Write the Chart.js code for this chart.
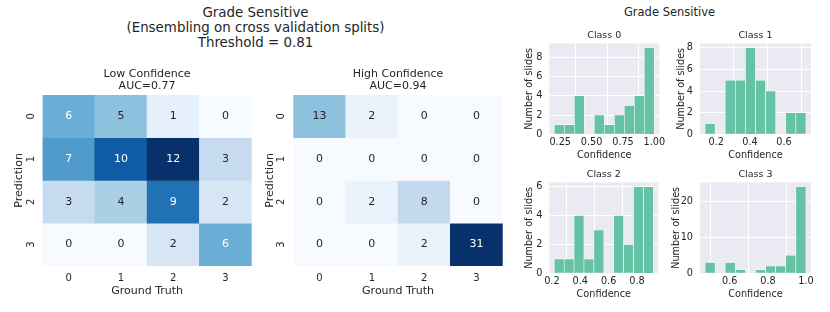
<!DOCTYPE html>
<html>
<head>
<meta charset="utf-8">
<script src="https://cdn.jsdelivr.net/npm/chart.js@4/dist/chart.umd.min.js"></script>
<style>
  html, body { margin: 0; padding: 0; background: #fff; }
  body { width: 830px; height: 312px; position: relative; overflow: hidden;
         font-family: "DejaVu Sans", sans-serif; color: #262626; }
  canvas { position: absolute; }
  .title { position: absolute; text-align: center; white-space: nowrap; }
</style>
</head>
<body>
<div class="title" style="left:0;top:4.6px;width:511px;font-size:13.4px;line-height:15px;">Grade Sensitive<br>(Ensembling on cross validation splits)<br>Threshold = 0.81</div>
<div class="title" style="left:590px;top:5px;width:159px;font-size:11.5px;line-height:14px;">Grade Sensitive</div>

<canvas id="lowConf" width="262" height="252" style="left:0;top:60px"></canvas>
<canvas id="highConf" width="262" height="252" style="left:250px;top:60px"></canvas>
<canvas id="class0" width="155" height="135" style="left:515px;top:30px"></canvas>
<canvas id="class1" width="155" height="135" style="left:668px;top:30px"></canvas>
<canvas id="class2" width="155" height="143" style="left:515px;top:169px"></canvas>
<canvas id="class3" width="155" height="143" style="left:668px;top:169px"></canvas>

<script>
// confusion matrices: rows = prediction, columns = ground truth
const truthLabels = ["0", "1", "2", "3"];
const predLabels = ["0", "1", "2", "3"];
const lowConfMatrix = [
  [6, 5, 1, 0],
  [7, 10, 12, 3],
  [3, 4, 9, 2],
  [0, 0, 2, 6]
];
const highConfMatrix = [
  [13, 2, 0, 0],
  [0, 0, 0, 0],
  [0, 2, 8, 0],
  [0, 0, 2, 31]
];
const lowConfTitle = ["Low Confidence", "AUC=0.77"];
const highConfTitle = ["High Confidence", "AUC=0.94"];

// confidence histograms (10 bins between first and last edge)
const class0Counts = [1, 1, 4, 0, 2, 1, 2, 3, 4, 9];
const class0Edges = [0.203, 1.0];
const class0XTicks = ["0.25", "0.50", "0.75", "1.00"];
const class0YTicks = [0, 2, 4, 6, 8];

const class1Counts = [1, 0, 5, 5, 8, 5, 4, 0, 2, 2];
const class1Edges = [0.135, 0.729];
const class1XTicks = ["0.2", "0.4", "0.6"];
const class1YTicks = [0, 2, 4, 6, 8];

const class2Counts = [1, 1, 4, 1, 3, 0, 4, 2, 6, 6];
const class2Edges = [0.217, 0.915];
const class2XTicks = ["0.2", "0.4", "0.6", "0.8"];
const class2YTicks = [0, 2, 4, 6];

const class3Counts = [3, 0, 3, 1, 0, 1, 2, 2, 5, 24];
const class3Edges = [0.470, 0.9995];
const class3XTicks = ["0.6", "0.8", "1.0"];
const class3YTicks = [0, 10, 20];

const ink = "#262626";
const family = "DejaVu Sans";

// matplotlib "Blues"
const bluesStops = [
  [247, 251, 255], [222, 235, 247], [198, 219, 239], [158, 202, 225], [107, 174, 214],
  [66, 146, 198], [33, 113, 181], [8, 81, 156], [8, 48, 107]
];

function blues(t) {
  t = Math.min(1, Math.max(0, t));
  const pos = t * (bluesStops.length - 1);
  const i = Math.min(Math.floor(pos), bluesStops.length - 2);
  const f = pos - i;
  return bluesStops[i].map((c, k) => c + (bluesStops[i + 1][k] - c) * f);
}

function css(rgb) {
  return "rgb(" + rgb.map(Math.round).join(",") + ")";
}

function luminance(rgb) {
  const lin = rgb.map(c => {
    c = c / 255;
    return c <= 0.03928 ? c / 12.92 : Math.pow((c + 0.055) / 1.055, 2.4);
  });
  return 0.2126 * lin[0] + 0.7152 * lin[1] + 0.0722 * lin[2];
}

// writes the count in the middle of every cell
function cellText(matrix, vmin, vmax) {
  return {
    id: "cellText",
    afterDatasetsDraw(chart) {
      const ctx = chart.ctx;
      ctx.save();
      ctx.font = "11px '" + family + "'";
      ctx.textAlign = "center";
      ctx.textBaseline = "middle";
      matrix.forEach((row, r) => {
        chart.getDatasetMeta(r).data.forEach((bar, c) => {
          const v = row[c];
          const lum = luminance(blues((v - vmin) / (vmax - vmin)));
          ctx.fillStyle = lum > 0.408 ? ink : "#ffffff";
          ctx.fillText(String(v), bar.x, (bar.y + bar.base) / 2);
        });
      });
      ctx.restore();
    }
  };
}

const plotBackground = {
  id: "plotBackground",
  beforeDraw(chart) {
    const a = chart.chartArea;
    chart.ctx.save();
    chart.ctx.fillStyle = "#eaeaf2";
    chart.ctx.fillRect(a.left, a.top, a.right - a.left, a.bottom - a.top);
    chart.ctx.restore();
  }
};

function heatmap(id, matrix, title, lay) {
  const flat = matrix.flat();
  const vmin = Math.min(...flat);
  const vmax = Math.max(...flat);
  const datasets = matrix.map((row, r) => ({
    data: row.map(() => [r, r + 1]),
    backgroundColor: row.map(v => css(blues((v - vmin) / (vmax - vmin)))),
    borderWidth: 0,
    grouped: false,
    barPercentage: 1,
    categoryPercentage: 1
  }));

  new Chart(document.getElementById(id), {
    type: "bar",
    data: { labels: truthLabels, datasets },
    options: {
      responsive: false,
      animation: false,
      layout: { padding: { left: lay.padLeft, right: lay.padRight, top: 0, bottom: 14.2 } },
      plugins: {
        legend: { display: false },
        tooltip: { enabled: false },
        title: {
          display: true,
          text: title,
          fullSize: false,
          color: ink,
          font: { family, size: 11, weight: "normal", lineHeight: 1.12 },
          padding: { top: 7.7, bottom: 2.6 }
        }
      },
      scales: {
        x: {
          grid: { display: false, drawTicks: false },
          border: { display: false },
          ticks: { color: ink, font: { family, size: 10 }, padding: 6.2 },
          title: { display: true, text: "Ground Truth", color: ink, font: { family, size: 11 }, padding: 0 },
          afterFit: s => { s.height = 31.8; }
        },
        y: {
          min: 0,
          max: 4,
          reverse: true,
          grid: { display: false, drawTicks: false },
          border: { display: false },
          afterBuildTicks: s => { s.ticks = predLabels.map((_, i) => ({ value: i + 0.5 })); },
          ticks: {
            callback: (v, i) => predLabels[i],
            minRotation: 90,
            maxRotation: 90,
            crossAlign: "center",
            padding: 8.4,
            color: ink,
            font: { family, size: 10 }
          },
          title: { display: true, text: "Prediction", color: ink, font: { family, size: 11 }, padding: 0 },
          afterFit: s => { s.width = lay.axisWidth; }
        }
      }
    },
    plugins: [cellText(matrix, vmin, vmax)]
  });
}

function histogram(id, title, counts, edges, xTicks, yTicks, lay) {
  const lo = edges[0], hi = edges[1];
  const bin = (hi - lo) / counts.length;
  const margin = 0.05 * (hi - lo);
  const points = counts.map((n, i) => ({ x: lo + bin * (i + 0.5), y: n }));

  new Chart(document.getElementById(id), {
    type: "bar",
    data: {
      datasets: [{
        data: points,
        backgroundColor: "#66c2a5",
        borderColor: "#ffffff",
        borderWidth: 0.6,
        barPercentage: 1,
        categoryPercentage: 1
      }]
    },
    options: {
      responsive: false,
      animation: false,
      layout: { padding: { left: lay.padLeft, right: lay.padRight, top: 0, bottom: lay.padBottom } },
      plugins: {
        legend: { display: false },
        tooltip: { enabled: false },
        title: {
          display: true,
          text: title,
          fullSize: false,
          color: ink,
          font: { family, size: 9.5, weight: "normal", lineHeight: 1.2 },
          padding: { top: 0, bottom: 2 }
        }
      },
      scales: {
        x: {
          type: "linear",
          min: lo - margin,
          max: hi + margin,
          offset: false,
          grid: { color: "#ffffff", lineWidth: 1, drawTicks: false },
          border: { display: false },
          afterBuildTicks: s => { s.ticks = xTicks.map(t => ({ value: parseFloat(t) })); },
          ticks: {
            callback: (v, i) => xTicks[i],
            autoSkip: false,
            maxRotation: 0,
            padding: 2,
            color: ink,
            font: { family, size: 9.7 }
          },
          title: { display: true, text: "Confidence", color: ink, font: { family, size: 9.7 }, padding: 0 },
          afterFit: s => { s.height = 26.5; }
        },
        y: {
          min: 0,
          max: 1.05 * Math.max(...counts),
          grid: { color: "#ffffff", lineWidth: 1, drawTicks: false },
          border: { display: false },
          afterBuildTicks: s => { s.ticks = yTicks.map(v => ({ value: v })); },
          ticks: {
            callback: v => String(v),
            padding: 7,
            color: ink,
            font: { family, size: 9.7 }
          },
          title: { display: true, text: "Number of slides", color: ink, font: { family, size: 9.7 }, padding: 0 },
          afterFit: s => { s.width = lay.axisWidth; }
        }
      }
    },
    plugins: [plotBackground]
  });
}

heatmap("lowConf", lowConfMatrix, lowConfTitle, { padLeft: 12.1, axisWidth: 30.4, padRight: 10.3 });
heatmap("highConf", highConfMatrix, highConfTitle, { padLeft: 13.4, axisWidth: 29.9, padRight: 9.3 });

histogram("class0", "Class 0", class0Counts, class0Edges, class0XTicks, class0YTicks,
  { padLeft: 8.9, axisWidth: 25.4, padRight: 10.7, padBottom: 4.2 });
histogram("class1", "Class 1", class1Counts, class1Edges, class1XTicks, class1YTicks,
  { padLeft: 7.2, axisWidth: 24.8, padRight: 12, padBottom: 4.2 });
histogram("class2", "Class 2", class2Counts, class2Edges, class2XTicks, class2YTicks,
  { padLeft: 8.9, axisWidth: 25.4, padRight: 11.7, padBottom: 12.2 });
histogram("class3", "Class 3", class3Counts, class3Edges, class3XTicks, class3YTicks,
  { padLeft: 2.2, axisWidth: 29.8, padRight: 12, padBottom: 12.2 });
</script>
</body>
</html>
